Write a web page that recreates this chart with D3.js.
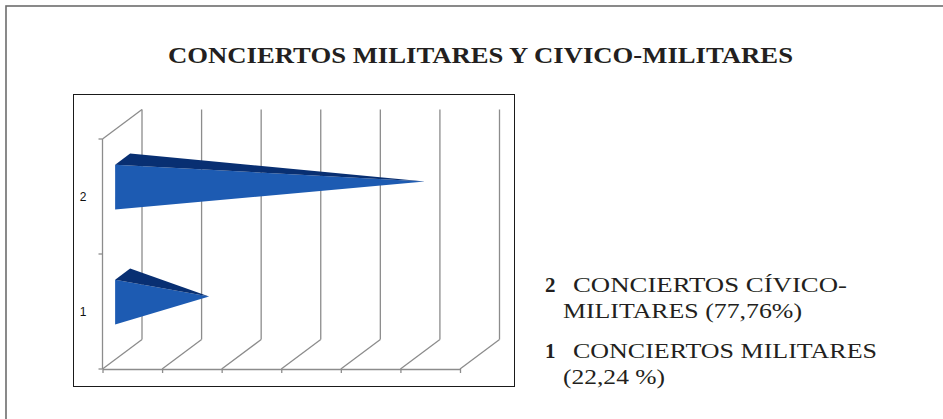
<!DOCTYPE html>
<html>
<head>
<meta charset="utf-8">
<script src="https://cdn.jsdelivr.net/npm/d3@7"></script>
<style>
  body { margin: 0; background: #fff; }
  svg { display: block; }
</style>
</head>
<body>
<svg width="943" height="419"></svg>
<script>
// data
const title = "CONCIERTOS MILITARES Y CIVICO-MILITARES";
const categories = ["1", "2"];
const values = [22.24, 77.76];
const legendNums = ["2", "1"];
const legendLines = [
    ["CONCIERTOS CÍVICO-", "MILITARES (77,76%)"],
    ["CONCIERTOS MILITARES", "(22,24 %)"]
];
const valueMax = 92;
const gridSteps = 6;

let svg = d3.select("svg");

// outer frame
svg.append("rect")
    .attr("x", 6).attr("y", 6)
    .attr("width", 1000).attr("height", 500)
    .style("fill", "none")
    .style("stroke", "#6d6d6d")
    .style("stroke-width", 1.6);

svg.append("text")
    .attr("x", 168).attr("y", 63)
    .attr("textLength", 625)
    .attr("lengthAdjust", "spacingAndGlyphs")
    .style("font-family", "'Liberation Serif', serif")
    .style("font-weight", "bold")
    .style("font-size", "23px")
    .style("fill", "#231f20")
    .text(title);

// chart box
svg.append("rect")
    .attr("x", 73.5).attr("y", 94.5)
    .attr("width", 441).attr("height", 292)
    .style("fill", "#fff")
    .style("stroke", "#1a1a1a")
    .style("stroke-width", 1);

const DX = 39.5, DY = -29.5;
const x = d3.scaleLinear().domain([0, valueMax]).range([102.5, 460]);
const y = d3.scaleBand().domain(categories).range([369, 139])
    .paddingInner(0.61).paddingOuter(0.305);
const gridVals = d3.range(gridSteps + 1).map(i => i * valueMax / gridSteps);
const yTop = 139, yBot = 369;

let grid = svg.append("g")
    .style("stroke", "#8c8c8c")
    .style("stroke-width", 1.3)
    .style("fill", "none");

// back wall verticals
grid.selectAll("line.wall").data(gridVals).enter()
    .append("line")
    .attr("x1", d => x(d) + DX).attr("x2", d => x(d) + DX)
    .attr("y1", yTop + DY).attr("y2", yBot + DY);

// floor diagonals
grid.selectAll("line.floor").data(gridVals).enter()
    .append("line")
    .attr("x1", d => x(d)).attr("x2", d => x(d) + DX)
    .attr("y1", yBot).attr("y2", yBot + DY);

// side wall top edge
grid.append("line")
    .attr("x1", x(0)).attr("y1", yTop)
    .attr("x2", x(0) + DX).attr("y2", yTop + DY);

// front value axis
svg.append("g")
    .attr("transform", `translate(0,${yBot})`)
    .call(d3.axisBottom(x).tickValues(gridVals).tickFormat("").tickSize(4).tickSizeOuter(0))
    .call(g => g.selectAll("path,line").style("stroke", "#8c8c8c").style("stroke-width", 1.3));

// front category axis
const step = y.step();
const bounds = [yBot, yBot - step, yTop];
grid.append("line")
    .attr("x1", x(0)).attr("x2", x(0))
    .attr("y1", yTop).attr("y2", yBot);
grid.selectAll("line.ctick").data(bounds).enter()
    .append("line")
    .attr("x1", x(0) - 4).attr("x2", x(0))
    .attr("y1", d => d).attr("y2", d => d);

svg.selectAll("text.cat").data(categories).enter()
    .append("text")
    .attr("x", 83)
    .attr("y", d => y(d) + y.bandwidth() / 2 + 4.5)
    .attr("text-anchor", "middle")
    .style("font-family", "'Liberation Sans', sans-serif")
    .style("font-size", "12px")
    .style("fill", "#111")
    .text(d => d);

// pyramids
const zf = 0.32, zb = 0.70, zc = 0.51;
const proj = (v, yy, z) => [x(v) + z * DX, yy + z * DY];
const bars = categories.map((c, i) => ({cat: c, value: values[i]}));

let pyr = svg.selectAll("g.pyr").data(bars).enter().append("g");
pyr.append("polygon")
    .attr("points", d => {
        let y0 = y(d.cat), y1 = y0 + y.bandwidth(), yc = y0 + y.bandwidth() / 2;
        return [proj(0, y0, zf), proj(0, y1, zf), proj(d.value, yc, zc)].join(" ");
    })
    .style("fill", "#1d5bb2");
pyr.append("polygon")
    .attr("points", d => {
        let y0 = y(d.cat), yc = y0 + y.bandwidth() / 2;
        return [proj(0, y0, zf), proj(0, y0, zb), proj(d.value, yc, zc)].join(" ");
    })
    .style("fill", "#082f72");

// legend
const legY = [292, 358];
const legW = [[274, 239], [304, 102]];
let leg = svg.selectAll("g.leg").data(legendLines).enter().append("g")
    .style("font-family", "'Liberation Serif', serif")
    .style("font-size", "21px")
    .style("fill", "#231f20");
leg.append("text")
    .attr("x", 545).attr("y", (d, i) => legY[i])
    .style("font-weight", "bold")
    .text((d, i) => legendNums[i]);
leg.append("text")
    .attr("x", 573).attr("y", (d, i) => legY[i])
    .attr("textLength", (d, i) => legW[i][0])
    .attr("lengthAdjust", "spacingAndGlyphs")
    .text(d => d[0]);
leg.append("text")
    .attr("x", 563).attr("y", (d, i) => legY[i] + 26)
    .attr("textLength", (d, i) => legW[i][1])
    .attr("lengthAdjust", "spacingAndGlyphs")
    .text(d => d[1]);
</script>
</body>
</html>
